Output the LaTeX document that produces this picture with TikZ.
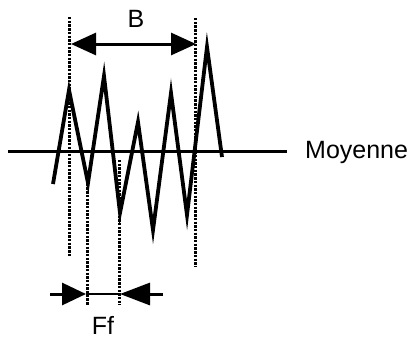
\documentclass[tikz,border=0pt]{standalone}
\usepackage{fontspec}
\setmainfont{Liberation Sans}
\usetikzlibrary{arrows.meta}
\begin{document}
\begin{tikzpicture}[x=1pt,y=-1pt,
  sig/.style={line width=3.8pt, line join=miter, miter limit=20},
  meanline/.style={line width=3pt},
  guide/.style={line width=3pt, dash pattern=on 2.4pt off 1.3pt},
  dimline/.style={line width=3pt},
  lbl/.style={font=\fontsize{25}{28}\selectfont, inner sep=0pt}]
\useasboundingbox (0,0) rectangle (413,338);
% mean line
\coordinate (m0) at (8,151);
\coordinate (m1) at (287,151);
\draw[meanline] (m0) -- (m1);
\node[lbl, anchor=west] (moy) at (305,152) {Moyenne};
% zigzag signal
\draw[sig] (53,184) -- (69,90) -- (88,183) -- (104,76) -- (120,213)
  -- (138,122) -- (153,230) -- (171,93) -- (187,215) -- (207,47) -- (222,157);
% guide lines
\coordinate (gB1t) at (69,17);  \coordinate (gB1b) at (69,257);
\coordinate (gB2t) at (195,18); \coordinate (gB2b) at (195,267);
\coordinate (gF1t) at (87,180); \coordinate (gF1b) at (87,305);
\coordinate (gF2t) at (119,160);\coordinate (gF2b) at (119,305);
\draw[guide] (gB1t) -- (gB1b);
\draw[guide] (gB2t) -- (gB2b);
\draw[guide] (gF1t) -- (gF1b);
\draw[guide] (gF2t) -- (gF2b);
% B dimension
\coordinate (bL) at (71,44);
\coordinate (bR) at (196,44);
\draw[dimline, {Triangle[length=25pt,width=22pt]}-{Triangle[length=25pt,width=22pt]}] (bL) -- (bR);
\node[lbl] (B) at (136,19) {B};
% Ff dimension
\coordinate (fL) at (50,294);
\coordinate (fR) at (163,294);
\coordinate (fT1) at (86,294);
\coordinate (fT2) at (120,294);
\draw[dimline, -{Triangle[length=24pt,width=22pt]}] (fL) -- (fT1);
\draw[dimline, -{Triangle[length=30pt,width=22pt]}] (fR) -- (fT2);
\draw[line width=2pt] (fT1) -- (fT2);
\node[lbl, anchor=base] (Ff) at (103,334) {Ff};
\end{tikzpicture}
\end{document}
